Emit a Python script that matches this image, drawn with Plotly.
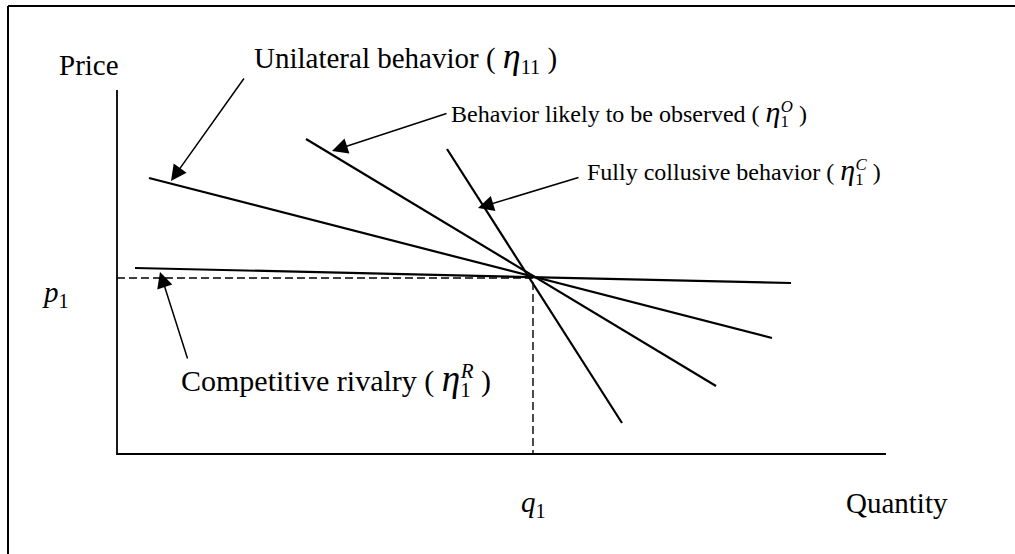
import plotly.graph_objects as go

# ---- data (quantity, price units) ----
q1 = 416
p1 = 176
axis_q_max = 769
axis_p_max = 364

line_names = ["Competitive rivalry", "Unilateral behavior", "Behavior likely to be observed", "Fully collusive behavior"]
line_q = [[18, 674], [32, 655], [189, 599], [330, 505]]
line_p = [[186, 171], [276, 116], [315, 68], [305, 31]]

# arrows: tail (q,p) -> head (q,p)
arrow_tail_q = [71, 128, 331, 463]
arrow_tail_p = [94, 377, 341, 277]
arrow_head_q = [43, 54, 215, 361]
arrow_head_p = [182, 273, 303, 246]

label_words = ["Competitive rivalry", "Unilateral behavior", "Behavior likely to be observed", "Fully collusive behavior"]
label_sub = ["1", "11", "1", "1"]
label_sup = ["R", "", "O", "C"]
label_q = [62, 135, 332, 468]
label_p = [74, 397, 341, 283]
label_size = [30, 29, 24, 24]

FONT = "Liberation Serif, Times New Roman, serif"
fig = go.Figure()

# axes
fig.add_trace(go.Scatter(x=[0, 0, axis_q_max], y=[axis_p_max, 0, 0], mode="lines",
                         line=dict(color="black", width=1.8), hoverinfo="skip", showlegend=False))
# dashed guides
fig.add_trace(go.Scatter(x=[0, q1, q1], y=[p1, p1, 0], mode="lines",
                         line=dict(color="black", width=1.4, dash="8px,4px"), hoverinfo="skip", showlegend=False))
# demand lines
for name, xs, ys in zip(line_names, line_q, line_p):
    fig.add_trace(go.Scatter(x=xs, y=ys, mode="lines", name=name,
                             line=dict(color="black", width=2.2), showlegend=False))

# arrows
for tq, tp, hq, hp in zip(arrow_tail_q, arrow_tail_p, arrow_head_q, arrow_head_p):
    fig.add_annotation(x=hq, y=hp, ax=tq, ay=tp, xref="x", yref="y", axref="x", ayref="y",
                       text="", showarrow=True, arrowhead=2, arrowsize=2.1, arrowwidth=1.5,
                       arrowcolor="black", standoff=0, startstandoff=0)

# labels
for w, sb, sp, q, p, s in zip(label_words, label_sub, label_sup, label_q, label_p, label_size):
    eta = f"<span style='font-size:{int(s*1.25)}px'><i>η</i></span>"
    if sp:
        back = round(s * 0.7 * 0.5)
        eta += f"<sub><span style='letter-spacing:-{back}px'>{sb}</span></sub><sup><i>{sp}</i></sup>"
    else:
        eta += f"<sub>{sb}</sub>"
    t = f"{w} ( {eta} )"
    fig.add_annotation(x=q, y=p, xref="x", yref="y", text=t, showarrow=False,
                       xanchor="left", yanchor="middle", font=dict(family=FONT, size=s, color="black"))

fig.add_annotation(x=-60, y=389, text="Price", showarrow=False, xanchor="left", yanchor="middle",
                   font=dict(family=FONT, size=29, color="black"))
fig.add_annotation(x=-77, y=160, text="<i>p</i><sub>1</sub>", showarrow=False, xanchor="left", yanchor="middle",
                   font=dict(family=FONT, size=29, color="black"))
fig.add_annotation(x=q1, y=-50, text="<i>q</i><sub>1</sub>", showarrow=False, xanchor="center", yanchor="middle",
                   font=dict(family=FONT, size=29, color="black"))
fig.add_annotation(x=727, y=-49, text="Quantity", showarrow=False, xanchor="left", yanchor="middle",
                   font=dict(family=FONT, size=29, color="black"))

# outer border (left and top edges visible)
fig.add_shape(type="line", xref="paper", yref="paper", x0=8/1015, x1=8/1015, y0=0, y1=1-6/554,
              line=dict(color="black", width=2))
fig.add_shape(type="line", xref="paper", yref="paper", x0=8/1015, x1=1, y0=1-6/554, y1=1-6/554,
              line=dict(color="black", width=2))

fig.update_layout(
    width=1015, height=554, margin=dict(l=0, r=0, t=0, b=0),
    paper_bgcolor="white", plot_bgcolor="white",
    xaxis=dict(range=[-117, 898], visible=False, fixedrange=True),
    yaxis=dict(range=[-100, 454], visible=False, fixedrange=True),
)
fig.write_html("out.html", config={"displayModeBar": False},
               post_script="document.body.style.margin='0';")
